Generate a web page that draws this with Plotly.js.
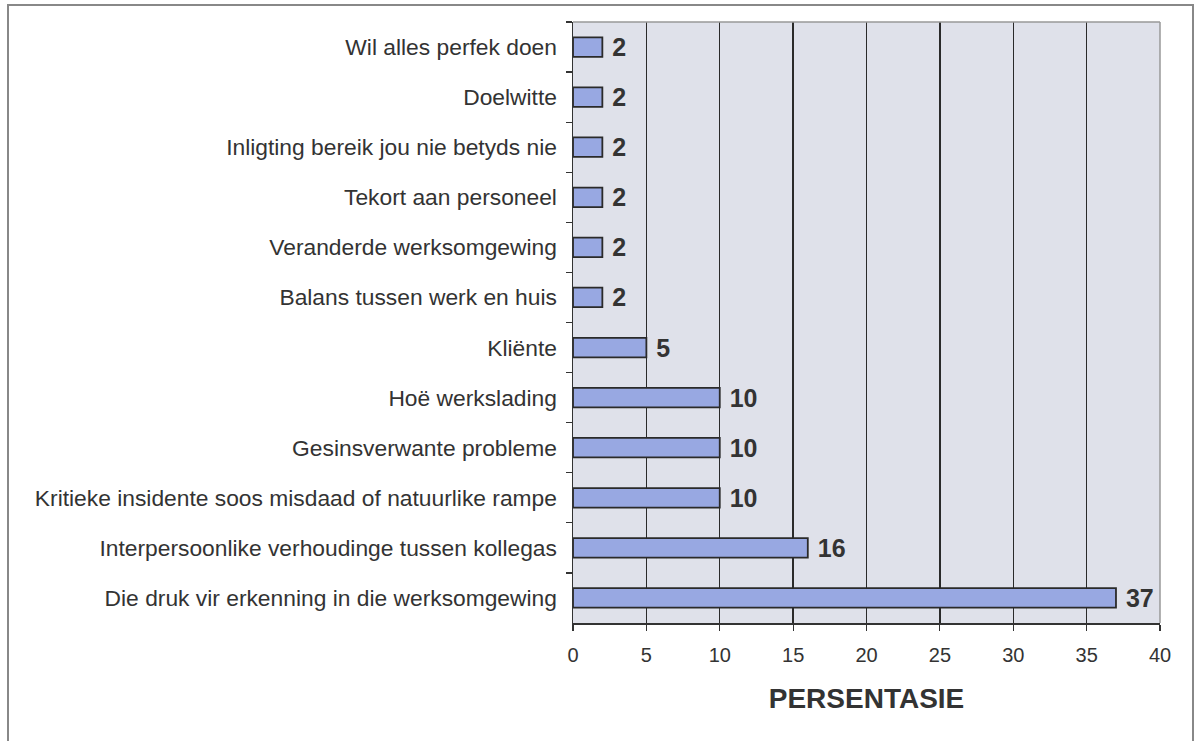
<!DOCTYPE html>
<html>
<head>
<meta charset="utf-8">
<script src="https://cdn.plot.ly/plotly-3.0.1.min.js"></script>
<style>html,body{margin:0;padding:0;background:#fff;}#chart{width:1200px;height:741px;}</style>
</head>
<body>
<div id="chart"></div>
<script>
const categories = [
  "Wil alles perfek doen",
  "Doelwitte",
  "Inligting bereik jou nie betyds nie",
  "Tekort aan personeel",
  "Veranderde werksomgewing",
  "Balans tussen werk en huis",
  "Kliënte",
  "Hoë werkslading",
  "Gesinsverwante probleme",
  "Kritieke insidente soos misdaad of natuurlike rampe",
  "Interpersoonlike verhoudinge tussen kollegas",
  "Die druk vir erkenning in die werksomgewing"
];
const values = [2, 2, 2, 2, 2, 2, 5, 10, 10, 10, 16, 37];
const xTicks = [0, 5, 10, 15, 20, 25, 30, 35, 40];

const trace = {
  type: 'bar',
  orientation: 'h',
  x: values,
  y: categories,
  width: 0.39,
  marker: {color: '#98a8e2', line: {color: '#2a2a2a', width: 1.8}},
  text: values.map(v => ' ' + v),
  textposition: 'outside',
  constraintext: 'none',
  cliponaxis: false,
  textfont: {family: 'Liberation Sans, Arial, sans-serif', size: 25, color: '#333', weight: 'bold'},
  hoverinfo: 'none'
};

const layout = {
  width: 1200, height: 741,
  margin: {l: 573, r: 40, t: 22, b: 118},
  paper_bgcolor: '#ffffff',
  plot_bgcolor: '#dfe1ea',
  showlegend: false,
  font: {family: 'Liberation Sans, Arial, sans-serif', color: '#333'},
  xaxis: {
    range: [0, 40],
    tickvals: xTicks,
    ticktext: xTicks.map(String),
    ticks: 'outside', ticklen: 6, tickwidth: 1.2, tickcolor: '#333',
    showline: true, linecolor: '#333', linewidth: 1.5,
    showgrid: true, gridcolor: '#2a2a2a', gridwidth: 1.3,
    zeroline: false,
    tickfont: {size: 20, color: '#333'},
    ticklabelstandoff: 7,
    title: {text: 'PERSENTASIE', font: {size: 28, color: '#333', weight: 'bold'}, standoff: 24}
  },
  yaxis: {
    type: 'category',
    autorange: 'reversed',
    ticks: 'outside', tickson: 'boundaries', ticklen: 6, tickwidth: 1.2, tickcolor: '#333',
    showline: true, linecolor: '#333', linewidth: 1.5,
    showgrid: false,
    tickfont: {size: 22.8, color: '#333'},
    ticklabelstandoff: 10
  },
  shapes: [
    {type: 'line', xref: 'paper', yref: 'paper', x0: 0, x1: 1, y0: 1, y1: 1, line: {color: '#999', width: 1.5}},
    {type: 'line', xref: 'paper', yref: 'paper', x0: 1, x1: 1, y0: 0, y1: 1, line: {color: '#999', width: 1.5}},
    {type: 'rect', xref: 'paper', yref: 'paper',
     x0: (8 - 573) / 587, x1: (1193 - 573) / 587,
     y0: -0.3, y1: (741 - 118 - 5) / 601,
     line: {color: '#888', width: 2}, fillcolor: 'rgba(0,0,0,0)', layer: 'below'}
  ]
};

Plotly.newPlot('chart', [trace], layout, {displayModeBar: false, staticPlot: true});
</script>
</body>
</html>
